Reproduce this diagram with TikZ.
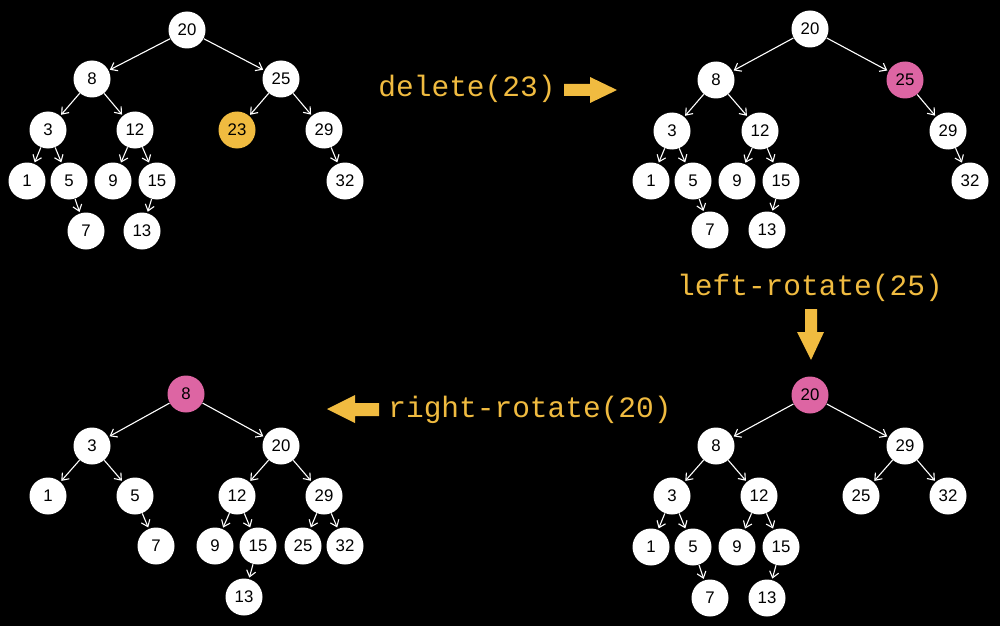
\documentclass[tikz,border=0pt]{standalone}
\usepackage{fontspec}
\setmainfont{Liberation Sans}
\setmonofont{Liberation Mono}
\usetikzlibrary{arrows.meta}

\definecolor{arancio}{RGB}{240,187,64}
\definecolor{rosa}{RGB}{221,101,163}

\tikzset{
  nodo/.style={circle, fill=white, draw=none, minimum size=18.5pt, inner sep=0pt, font=\fontsize{8.4}{9}\selectfont},
  giallo/.style={nodo, fill=arancio},
  rosso/.style={nodo, fill=rosa},
  freccia/.style={draw=white, line width=0.55pt, -{Straight Barb[length=3pt,width=4.6pt]}, shorten >=0.6pt},
  etichetta/.style={text=arancio, inner sep=0pt, font=\fontsize{14.75}{16}\selectfont\ttfamily}
}

\begin{document}
\begin{tikzpicture}[x=0.5pt, y=-0.5pt]
% Sfondo
\fill[black] (0,0) rectangle (1000,626);
\useasboundingbox (0,0) rectangle (1000,626);

% Albero iniziale
\node[nodo] (a20) at (187,30) {20};
\node[nodo] (a8) at (92,79) {8};
\node[nodo] (a25) at (281,79) {25};
\node[nodo] (a3) at (48,130) {3};
\node[nodo] (a12) at (135,130) {12};
\node[giallo] (a23) at (237,130) {23};
\node[nodo] (a29) at (324,130) {29};
\node[nodo] (a1) at (27,181) {1};
\node[nodo] (a5) at (69,181) {5};
\node[nodo] (a9) at (113,181) {9};
\node[nodo] (a15) at (157,181) {15};
\node[nodo] (a32) at (345,181) {32};
\node[nodo] (a7) at (86,231) {7};
\node[nodo] (a13) at (142,231) {13};
\draw[freccia] (a20) -- (a8);
\draw[freccia] (a20) -- (a25);
\draw[freccia] (a8) -- (a3);
\draw[freccia] (a8) -- (a12);
\draw[freccia] (a25) -- (a23);
\draw[freccia] (a25) -- (a29);
\draw[freccia] (a3) -- (a1);
\draw[freccia] (a3) -- (a5);
\draw[freccia] (a12) -- (a9);
\draw[freccia] (a12) -- (a15);
\draw[freccia] (a29) -- (a32);
\draw[freccia] (a5) -- (a7);
\draw[freccia] (a15) -- (a13);

% Dopo la cancellazione
\node[nodo] (b20) at (810,29) {20};
\node[nodo] (b8) at (716,80) {8};
\node[rosso] (b25) at (905,80) {25};
\node[nodo] (b3) at (672,131) {3};
\node[nodo] (b12) at (760,131) {12};
\node[nodo] (b29) at (948,131) {29};
\node[nodo] (b1) at (651,181) {1};
\node[nodo] (b5) at (693,181) {5};
\node[nodo] (b9) at (737,181) {9};
\node[nodo] (b15) at (781,181) {15};
\node[nodo] (b32) at (970,181) {32};
\node[nodo] (b7) at (710,230) {7};
\node[nodo] (b13) at (767,230) {13};
\draw[freccia] (b20) -- (b8);
\draw[freccia] (b20) -- (b25);
\draw[freccia] (b8) -- (b3);
\draw[freccia] (b8) -- (b12);
\draw[freccia] (b25) -- (b29);
\draw[freccia] (b3) -- (b1);
\draw[freccia] (b3) -- (b5);
\draw[freccia] (b12) -- (b9);
\draw[freccia] (b12) -- (b15);
\draw[freccia] (b29) -- (b32);
\draw[freccia] (b5) -- (b7);
\draw[freccia] (b15) -- (b13);

% Dopo la rotazione a sinistra
\node[rosso] (c20) at (810,395) {20};
\node[nodo] (c8) at (716,446) {8};
\node[nodo] (c29) at (905,446) {29};
\node[nodo] (c3) at (672,496) {3};
\node[nodo] (c12) at (759,496) {12};
\node[nodo] (c25) at (861,496) {25};
\node[nodo] (c32) at (948,496) {32};
\node[nodo] (c1) at (651,547) {1};
\node[nodo] (c5) at (693,547) {5};
\node[nodo] (c9) at (737,547) {9};
\node[nodo] (c15) at (781,547) {15};
\node[nodo] (c7) at (710,598) {7};
\node[nodo] (c13) at (767,598) {13};
\draw[freccia] (c20) -- (c8);
\draw[freccia] (c20) -- (c29);
\draw[freccia] (c8) -- (c3);
\draw[freccia] (c8) -- (c12);
\draw[freccia] (c29) -- (c25);
\draw[freccia] (c29) -- (c32);
\draw[freccia] (c3) -- (c1);
\draw[freccia] (c3) -- (c5);
\draw[freccia] (c12) -- (c9);
\draw[freccia] (c12) -- (c15);
\draw[freccia] (c5) -- (c7);
\draw[freccia] (c15) -- (c13);

% Dopo la rotazione a destra
\node[rosso] (d8) at (186,394) {8};
\node[nodo] (d3) at (92,446) {3};
\node[nodo] (d20) at (281,446) {20};
\node[nodo] (d1) at (48,496) {1};
\node[nodo] (d5) at (135,496) {5};
\node[nodo] (d12) at (237,496) {12};
\node[nodo] (d29) at (324,496) {29};
\node[nodo] (d7) at (156,546) {7};
\node[nodo] (d9) at (215,546) {9};
\node[nodo] (d15) at (258,546) {15};
\node[nodo] (d25) at (303,546) {25};
\node[nodo] (d32) at (345,546) {32};
\node[nodo] (d13) at (244,597) {13};
\draw[freccia] (d8) -- (d3);
\draw[freccia] (d8) -- (d20);
\draw[freccia] (d3) -- (d1);
\draw[freccia] (d3) -- (d5);
\draw[freccia] (d20) -- (d12);
\draw[freccia] (d20) -- (d29);
\draw[freccia] (d5) -- (d7);
\draw[freccia] (d12) -- (d9);
\draw[freccia] (d12) -- (d15);
\draw[freccia] (d29) -- (d25);
\draw[freccia] (d29) -- (d32);
\draw[freccia] (d15) -- (d13);

% Operazioni
\node[etichetta] (del) at (467,89) {delete(23)};
\node[etichetta] (lrot) at (810,288) {left-rotate(25)};
\node[etichetta] (rrot) at (530,410) {right-rotate(20)};

% Frecce larghe
\fill[arancio] (564,84) -- (590,84) -- (590,77) -- (617,90) -- (590,103) -- (590,96) -- (564,96) -- cycle;
\fill[arancio] (805,309) -- (817,309) -- (817,332) -- (824,332) -- (811,360) -- (797,332) -- (805,332) -- cycle;
\fill[arancio] (379,403) -- (355,403) -- (355,395) -- (327,409) -- (355,423) -- (355,416) -- (379,416) -- cycle;
\end{tikzpicture}
\end{document}
